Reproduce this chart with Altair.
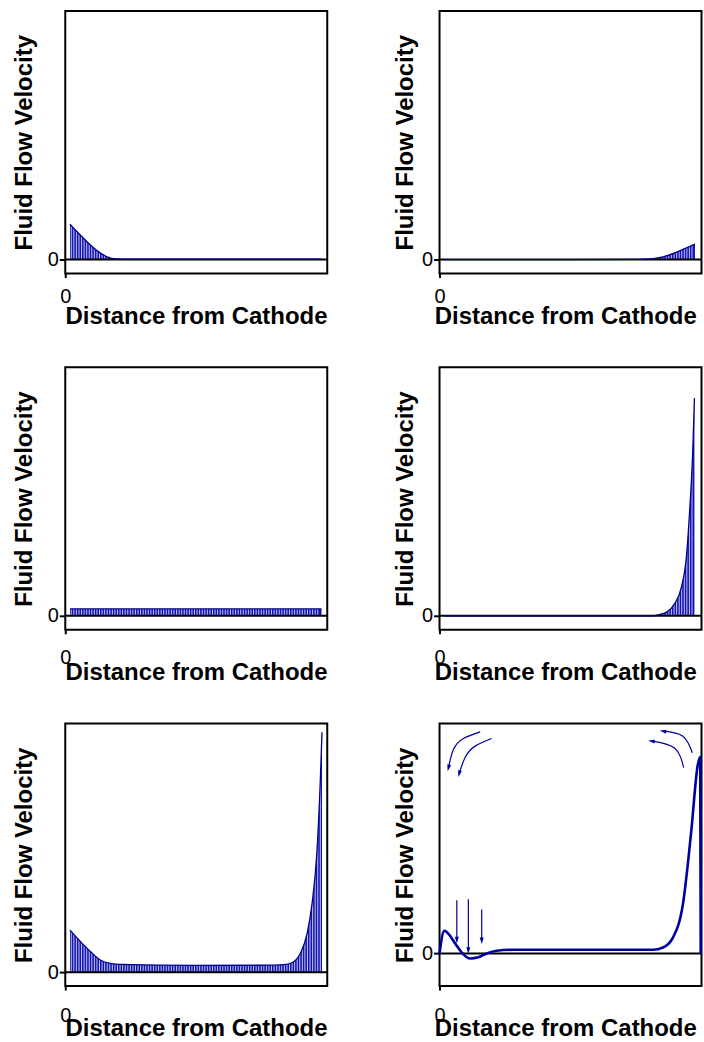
import altair as alt
import pandas as pd

FONT = "Liberation Sans"
LINE = "#00008B"
FILL = "#1414B4"
CURVE6 = "#0000A0"

X_TITLE = "Distance from Cathode"
Y_TITLE = "Fluid Flow Velocity"

# ---- curve values (x = fraction of distance, y = velocity) ----
p1_x = [0.018, 0.046, 0.084, 0.122, 0.16, 0.192, 0.25, 0.5, 0.75, 0.978]
p1_y = [0.142, 0.111, 0.071, 0.035, 0.011, 0.003, 0.002, 0.002, 0.002, 0.002]

p2_x = [0.018, 0.25, 0.5, 0.75, 0.815, 0.853, 0.916, 0.975]
p2_y = [0.0, 0.0, 0.0, 0.001, 0.004, 0.011, 0.035, 0.062]

p3_x = [0.018, 0.25, 0.5, 0.75, 0.978]
p3_y = [0.028, 0.028, 0.028, 0.028, 0.028]

p4_x = [0.018, 0.5, 0.815, 0.834, 0.866, 0.897, 0.923, 0.942, 0.954, 0.967, 0.973]
p4_y = [0.0, 0.0, 0.0, 0.004, 0.014, 0.048, 0.115, 0.235, 0.409, 0.675, 0.876]

p5_x = [0.018, 0.059, 0.097, 0.135, 0.173, 0.211, 0.5, 0.8, 0.833, 0.865, 0.897,
        0.923, 0.942, 0.961, 0.973, 0.98]
p5_y = [0.169, 0.122, 0.082, 0.048, 0.035, 0.031, 0.027, 0.028, 0.03, 0.038, 0.075,
        0.155, 0.276, 0.49, 0.757, 0.965]

p6_x = [0.0, 0.018, 0.066, 0.085, 0.117, 0.148, 0.18, 0.218, 0.282, 0.5, 0.815,
        0.853, 0.891, 0.929, 0.961, 0.986, 0.995, 0.997]
p6_y = [0.0, 0.098, 0.033, 0.004, -0.022, -0.017, 0.0, 0.012, 0.016, 0.016, 0.016,
        0.026, 0.069, 0.214, 0.533, 0.822, 0.854, 0.0]

# ---- circulation arrows of panel 6 (data units of that panel) ----
arc_id = [1, 1, 1, 1, 2, 2, 2, 2, 3, 3, 3, 4, 4, 4]
arc_i = [0, 1, 2, 3, 0, 1, 2, 3, 0, 1, 2, 0, 1, 2]
arc_x = [0.155, 0.091, 0.053, 0.034, 0.199, 0.136, 0.098, 0.075,
         0.965, 0.929, 0.853, 0.932, 0.897, 0.809]
arc_y = [0.964, 0.935, 0.887, 0.807, 0.935, 0.902, 0.854, 0.782,
         0.873, 0.945, 0.967, 0.808, 0.894, 0.924]
head_x = [0.034, 0.075, 0.853, 0.809]
head_y = [0.807, 0.782, 0.967, 0.924]
head_angle = [14, 14, 100, 100]

down_x = [0.066, 0.110, 0.161]
down_top = [0.231, 0.236, 0.191]
down_end = [0.058, 0.012, 0.055]

# hatch spacing of the shaded area (style only)
HATCH_STEP = 0.0098

W, H = 262.5, 263


def axes(col, row, ydom):
    label_pad = [9, 14, 15][row]
    xa = alt.Axis(values=[0], title=X_TITLE, labelFlush=False, labelFontSize=20,
                  labelFont=FONT, labelColor="black", labelPadding=label_pad,
                  tickSize=4, tickWidth=2, tickColor="black", domain=False, grid=False,
                  titleFont=FONT, titleFontSize=24, titleFontWeight="bold",
                  titleColor="black", titleBaseline="alphabetic", titleY=50,
                  titleX=131 if col == 0 else 126)
    ya = alt.Axis(values=[0], title=Y_TITLE, labelFontSize=20, labelFont=FONT,
                  labelColor="black", labelPadding=1, tickSize=6, tickWidth=2,
                  tickColor="black", domain=False, grid=False, titleFont=FONT,
                  titleFontSize=24, titleFontWeight="bold", titleColor="black",
                  titleBaseline="alphabetic", titleX=-34 if col == 0 else -27)
    xs = alt.Scale(domain=[0, 1], nice=False, zero=False)
    ys = alt.Scale(domain=ydom, nice=False, zero=False)

    def X(f):
        return alt.X(f, type="quantitative", scale=xs, axis=xa)

    def Y(f):
        return alt.Y(f, type="quantitative", scale=ys, axis=ya)

    return X, Y


def zero_rule(Y):
    return alt.Chart(pd.DataFrame({"y": [0]})).mark_rule(
        color="black", strokeWidth=2).encode(y=Y("y"))


def hatched_panel(xs_, ys_, col, row):
    X, Y = axes(col, row, [-0.056, 1])
    df = pd.DataFrame({"x": xs_, "y": ys_, "y0": [0] * len(xs_)})
    lo, hi = min(xs_), max(xs_)
    n = int((hi - lo) / HATCH_STEP)
    hatch = pd.DataFrame({"x": [lo + HATCH_STEP * (k + 0.5) for k in range(n)]})
    hatch["y"] = 0
    hatch["y2"] = max(ys_) + 0.01
    area = alt.Chart(df).mark_area(color=FILL, interpolate="monotone").encode(
        x=X("x"), y=Y("y"), y2=alt.Y2("y0"))
    gaps = alt.Chart(hatch).mark_rule(color="white", strokeWidth=0.75).encode(
        x=X("x"), y=Y("y"), y2=alt.Y2("y2"))
    line = alt.Chart(df).mark_line(color=LINE, strokeWidth=1.3,
                                   interpolate="monotone").encode(x=X("x"), y=Y("y"))
    return alt.layer(area, gaps, zero_rule(Y), line).properties(width=W, height=H)


def panel6(col, row):
    X, Y = axes(col, row, [-0.142, 1])
    df = pd.DataFrame({"x": p6_x, "y": p6_y})
    line = alt.Chart(df).mark_line(color=CURVE6, strokeWidth=2.6,
                                   interpolate="monotone").encode(x=X("x"), y=Y("y"))
    arcs = alt.Chart(pd.DataFrame({"id": arc_id, "i": arc_i, "x": arc_x, "y": arc_y})
                     ).mark_line(color=CURVE6, strokeWidth=1.2, interpolate="natural"
                                 ).encode(x=X("x"), y=Y("y"), detail="id:N",
                                          order="i:Q")
    heads = alt.Chart(pd.DataFrame({"x": head_x, "y": head_y, "a": head_angle})
                      ).mark_point(shape="M-0.6,-1L0.6,-1L0,1Z", filled=True, size=44,
                                   color=CURVE6, opacity=1).encode(
        x=X("x"), y=Y("y"), angle=alt.Angle("a:Q", scale=None))
    vdf = pd.DataFrame({"x": down_x, "y": down_top, "y2": down_end})
    vlines = alt.Chart(vdf).mark_rule(color=CURVE6, strokeWidth=1.2).encode(
        x=X("x"), y=Y("y"), y2=alt.Y2("y2"))
    vheads = alt.Chart(vdf).mark_point(shape="M-0.6,-1L0.6,-1L0,1Z", filled=True,
                                       size=44, color=CURVE6, opacity=1).encode(
        x=X("x"), y=Y("y2"))
    return alt.layer(zero_rule(Y), line, arcs, heads, vlines, vheads).properties(
        width=W, height=H)


panels = [
    hatched_panel(p1_x, p1_y, 0, 0),
    hatched_panel(p2_x, p2_y, 1, 0),
    hatched_panel(p3_x, p3_y, 0, 1),
    hatched_panel(p4_x, p4_y, 1, 1),
    hatched_panel(p5_x, p5_y, 0, 2),
    panel6(1, 2),
]

chart = alt.concat(*panels, columns=2, spacing=alt.RowColnumber(row=94, column=112),
                   bounds="flush").properties(
    padding={"left": 10.4, "top": 9, "right": -3, "bottom": 0},
    background="white",
).configure_view(stroke="black", strokeWidth=2)

chart.save("out.html", embed_options={"renderer": "svg", "actions": False})
